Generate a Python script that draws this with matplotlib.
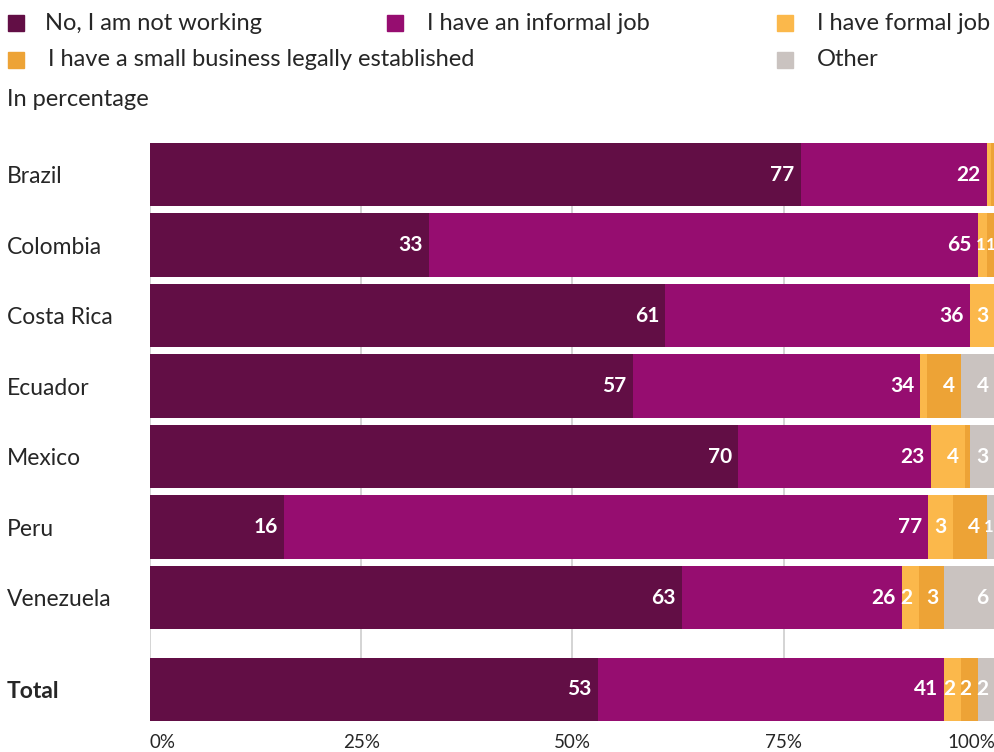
import numpy as np
import matplotlib.pyplot as plt
from matplotlib.patches import Rectangle

plt.rcParams['font.family'] = ['Lato', 'DejaVu Sans']

# work status by country, in percentage
countries = ["Brazil", "Colombia", "Costa Rica", "Ecuador", "Mexico", "Peru", "Venezuela", "Total"]
series = ["No, I am not working", "I have an informal job", "I have formal job",
          "I have a small business legally established", "Other"]
not_working = [77, 33, 61, 57, 70, 16, 63, 53]
informal = [22, 65, 36, 34, 23, 77, 26, 41]
formal = [0.5, 1, 3, 0.8, 4, 3, 2, 2]
small_business = [0.4, 1, 0, 4, 0.6, 4, 3, 2]
other = [0.1, 0, 0, 4, 3, 1, 6, 2]
xticks = [0, 25, 50, 75, 100]
xtick_labels = ["0%", "25%", "50%", "75%", "100%"]

colors = ["#620e45", "#960d70", "#fbb84b", "#eda336", "#cac3c0"]
text_color = "#262626"

fig = plt.figure(figsize=(9.95, 7.52), dpi=100)
ax = fig.add_axes([150 / 995, 31 / 752, 845 / 995, 578 / 752])

# rows, with the total pushed down a little
ypos = np.arange(len(countries), dtype=float)
ypos[-1] += 0.3
height = 0.9

data = np.array([not_working, informal, formal, small_business, other], dtype=float)
# 100% stacked: each row scaled by its own sum
shares = data / data.sum(axis=0) * 100

left = np.zeros(len(countries))
last_thin = {}
for vals, widths, col in zip(data, shares, colors):
    ax.barh(ypos, widths, left=left, height=height, color=col, zorder=2)
    for i, (y, l, v, w) in enumerate(zip(ypos, left, vals, widths)):
        if v < 1:
            continue
        if w < 2:
            # thin slices: roughly centred, spaced apart, kept inside the plot
            x = l + w / 2 - 0.2
            if i in last_thin:
                x = max(x, last_thin[i] + 1.2)
            x = min(x, 99.5)
            last_thin[i] = x
            ax.text(x, y, f"{v:.0f}", ha="center", va="center",
                    color="white", fontsize=12, fontweight="bold", zorder=3)
        else:
            ax.annotate(f"{v:.0f}", (l + w, y), xytext=(-4.5, 0), textcoords="offset points",
                        ha="right", va="center", color="white", fontsize=15,
                        fontweight="bold", zorder=3, annotation_clip=False)
    left += widths

ax.set_xlim(0, 100)
ax.set_ylim(ypos[-1] + height / 2, ypos[0] - height / 2)

ax.set_xticks(xticks)
ax.set_xticklabels(xtick_labels)
ticklabels = ax.get_xticklabels()
ticklabels[0].set_ha("left")
ticklabels[-1].set_ha("right")
ax.tick_params(axis="x", length=0, pad=9, labelsize=13.5, labelcolor=text_color)
ax.grid(axis="x", color="#d4d4d4", linewidth=1.4, zorder=0)

ax.set_yticks(ypos)
ax.set_yticklabels(countries)
for t in ax.get_yticklabels():
    t.set_ha("left")
ax.get_yticklabels()[-1].set_fontweight("bold")
ax.tick_params(axis="y", length=0, pad=103, labelsize=16.5, labelcolor=text_color)

for s in ax.spines.values():
    s.set_visible(False)

# legend laid out by hand across two rows
legend_items = [
    (0, 8, 45, 23),
    (1, 387, 427, 23),
    (2, 777, 817, 23),
    (3, 8, 48, 60),
    (4, 777, 817, 60),
]
for idx, sx, tx, ty in legend_items:
    fig.add_artist(Rectangle((sx / 995, 1 - (ty + 8) / 752), 16 / 995, 16 / 752,
                             transform=fig.transFigure, color=colors[idx]))
    fig.text(tx / 995, 1 - ty / 752, series[idx], ha="left", va="center",
             fontsize=17, color=text_color)

fig.text(7 / 995, 1 - 100 / 752, "In percentage", ha="left", va="center",
         fontsize=17, color=text_color)

fig.savefig("out.png", dpi=100)
